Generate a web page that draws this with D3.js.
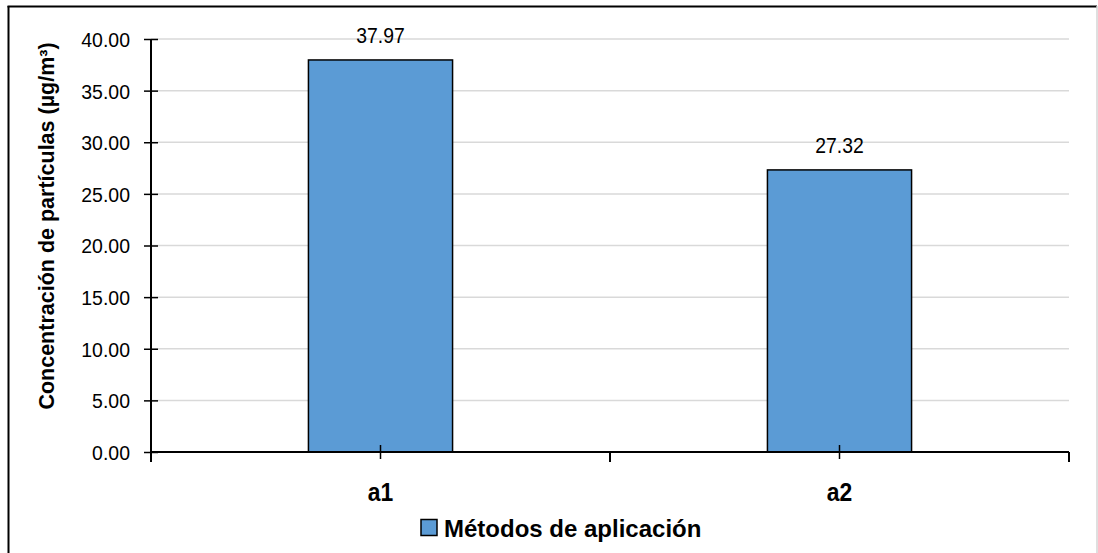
<!DOCTYPE html>
<html>
<head>
<meta charset="utf-8">
<script src="https://cdn.jsdelivr.net/npm/d3@7"></script>
<style>
  html, body { margin: 0; padding: 0; background: #fff; }
  svg { display: block; font-family: "Liberation Sans", Arial, sans-serif; }
</style>
</head>
<body>
<svg id="chart" width="1098" height="553"></svg>
<script>
// Particle concentration by application method
const categories = ["a1", "a2"];
const values = [37.97, 27.32];
const yTicks = [0, 5, 10, 15, 20, 25, 30, 35, 40];
const seriesName = "Métodos de aplicación";
const yTitle = "Concentración de partículas (µg/m³)";

const svg = d3.select("#chart");
const plot = { left: 151, right: 1069, top: 39, bottom: 452 };
const barColor = "#5B9BD5";

// Outer frame
svg.append("line").attr("x1", 8.5).attr("x2", 8.5).attr("y1", 6).attr("y2", 553)
  .attr("stroke", "#000").attr("stroke-width", 2);
svg.append("line").attr("x1", 7.5).attr("x2", 1097).attr("y1", 6.5).attr("y2", 6.5)
  .attr("stroke", "#000").attr("stroke-width", 2);
svg.append("line").attr("x1", 1097).attr("x2", 1097).attr("y1", 6).attr("y2", 553)
  .attr("stroke", "#d4d4d4").attr("stroke-width", 1.5);

const x = d3.scaleBand().domain(categories).range([plot.left, plot.right]).padding(0);
const y = d3.scaleLinear().domain([0, 40]).range([plot.bottom, plot.top]);

// Condensed text placed at (px, py)
function narrowText(sel, px, py, sx) {
  return sel.attr("transform", (d, i) => `translate(${px(d, i)},${py(d, i)}) scale(${sx},1)`);
}

// Gridlines
svg.append("g").selectAll("line").data(yTicks.filter(t => t > 0)).join("line")
  .attr("x1", plot.left).attr("x2", plot.right)
  .attr("y1", d => y(d)).attr("y2", d => y(d))
  .attr("stroke", "#d9d9d9").attr("stroke-width", 1.5);

// Bars
const barW = x.bandwidth() * 0.314;
svg.append("g").selectAll("rect").data(categories).join("rect")
  .attr("x", (d) => x(d) + x.bandwidth() / 2 - barW / 2)
  .attr("y", (d, i) => y(values[i]))
  .attr("width", barW)
  .attr("height", (d, i) => y(0) - y(values[i]))
  .attr("fill", barColor).attr("stroke", "#000").attr("stroke-width", 1.5);

// Data labels
narrowText(
  svg.append("g").selectAll("text").data(categories).join("text"),
  d => x(d) + x.bandwidth() / 2,
  (d, i) => y(values[i]) - 17,
  0.88)
  .attr("text-anchor", "middle")
  .attr("font-size", 22).attr("fill", "#000")
  .text((d, i) => values[i].toFixed(2));

// Y axis
const yAxis = d3.axisLeft(y).tickValues(yTicks).tickFormat(d3.format(".2f")).tickSize(0).tickPadding(0);
const gy = svg.append("g").attr("transform", `translate(${plot.left},0)`).call(yAxis);
gy.select(".domain").remove();
gy.selectAll(".tick text").attr("x", null)
  .attr("transform", "translate(-21,0) scale(0.95,1)")
  .attr("dy", "0.36em")
  .attr("font-size", 20.5).attr("fill", "#000")
  .attr("font-family", "'Liberation Sans', Arial, sans-serif");
gy.selectAll(".tick").append("line").attr("x1", -7).attr("x2", 7)
  .attr("stroke", "#000").attr("stroke-width", 1.5);
svg.append("line").attr("x1", plot.left).attr("x2", plot.left)
  .attr("y1", y(40)).attr("y2", plot.bottom + 10)
  .attr("stroke", "#000").attr("stroke-width", 2);

// X axis
svg.append("line").attr("x1", plot.left).attr("x2", plot.right)
  .attr("y1", plot.bottom).attr("y2", plot.bottom)
  .attr("stroke", "#000").attr("stroke-width", 2);
const bounds = categories.map(d => x(d)).concat([plot.right]);
svg.append("g").selectAll("line").data(bounds).join("line")
  .attr("x1", d => d).attr("x2", d => d)
  .attr("y1", plot.bottom).attr("y2", plot.bottom + 10)
  .attr("stroke", "#000").attr("stroke-width", 2);
svg.append("g").selectAll("line").data(categories).join("line")
  .attr("x1", d => x(d) + x.bandwidth() / 2).attr("x2", d => x(d) + x.bandwidth() / 2)
  .attr("y1", plot.bottom - 7).attr("y2", plot.bottom + 7)
  .attr("stroke", "#000").attr("stroke-width", 1.5);
narrowText(
  svg.append("g").selectAll("text").data(categories).join("text"),
  d => x(d) + x.bandwidth() / 2,
  () => 501,
  0.88)
  .attr("text-anchor", "middle")
  .attr("font-size", 26).attr("font-weight", "bold").attr("fill", "#000")
  .text(d => d);

// Y axis title
svg.append("text")
  .attr("transform", "translate(54,226) rotate(-90)")
  .attr("text-anchor", "middle")
  .attr("font-size", 21.5).attr("font-weight", "bold").attr("fill", "#000")
  .text(yTitle);

// Legend
const lg = svg.append("g");
lg.append("rect").attr("x", 421).attr("y", 519.5).attr("width", 16).attr("height", 16)
  .attr("fill", barColor).attr("stroke", "#000").attr("stroke-width", 1.5);
lg.append("text").attr("x", 444).attr("y", 537)
  .attr("font-size", 24).attr("font-weight", "bold").attr("fill", "#000")
  .text(seriesName);
</script>
</body>
</html>
